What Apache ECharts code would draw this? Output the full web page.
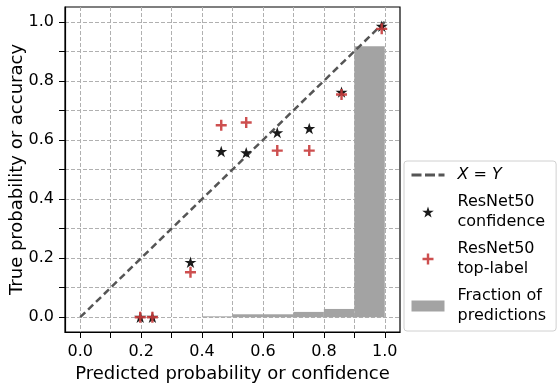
<!DOCTYPE html>
<html><head><meta charset="utf-8">
<script src="https://cdn.jsdelivr.net/npm/echarts@6/dist/echarts.min.js"></script>
<style>html,body{margin:0;padding:0;background:#fff}#c{width:560px;height:390px}</style>
</head><body><div id="c"></div>
<script>
// ---- data ----
const gridTicks = [0, 0.1, 0.2, 0.3, 0.4, 0.5, 0.6, 0.7, 0.8, 0.9, 1.0];
const tickLabels = [0, 0.2, 0.4, 0.6, 0.8, 1.0];
const diagX = [0, 1];
const diagY = [0, 1];
const confX = [0.197, 0.237, 0.362, 0.463, 0.545, 0.647, 0.752, 0.858, 0.990];
const confY = [0.0, 0.0, 0.186, 0.561, 0.557, 0.625, 0.639, 0.762, 0.985];
const topX = [0.197, 0.237, 0.362, 0.463, 0.545, 0.647, 0.752, 0.858, 0.990];
const topY = [0.0, 0.0, 0.152, 0.650, 0.659, 0.564, 0.564, 0.754, 0.976];
const binStart = [0.0, 0.1, 0.2, 0.3, 0.4, 0.5, 0.6, 0.7, 0.8, 0.9];
const binEnd = [0.1, 0.2, 0.3, 0.4, 0.5, 0.6, 0.7, 0.8, 0.9, 1.0];
const binFrac = [0, 0, 0, 0, 0.003, 0.010, 0.010, 0.018, 0.028, 0.917];
const legendNames = {
  'xy': '{i|X} = {i|Y}',
  'conf': 'ResNet50\nconfidence',
  'top': 'ResNet50\ntop-label',
  'frac': 'Fraction of\npredictions'
};

const FONT = 'DejaVu Sans';
const STAR = 'path://M50,0L61.2,34.5L97.6,34.5L68.2,55.9L79.4,90.5L50,69.1L20.6,90.5L31.8,55.9L2.4,34.5L38.8,34.5Z';
const PLUS = 'path://M3.9,0H6.1V3.9H10V6.1H6.1V10H3.9V6.1H0V3.9H3.9Z';

const chart = echarts.init(document.getElementById('c'), null, {renderer: 'canvas'});

function axisCommon(name, gap, margin, moveOverlap) {
  return {
    type: 'value', min: -0.05, max: 1.05,
    name: name, nameLocation: 'middle', nameGap: gap, nameMoveOverlap: moveOverlap,
    nameTextStyle: {fontFamily: FONT, fontSize: 18, color: '#000'},
    axisLine: {show: true, onZero: false, lineStyle: {color: '#000', width: 1.2}},
    axisTick: {show: true, length: 6, customValues: gridTicks, lineStyle: {color: '#000', width: 1}},
    axisLabel: {customValues: tickLabels, formatter: v => Number(v).toFixed(1),
      fontFamily: FONT, fontSize: 16, color: '#000', margin: margin},
    splitLine: {show: true, lineStyle: {color: '#b0b0b0', type: [4, 2], width: 1}}
  };
}

const option = {
  animation: false,
  backgroundColor: '#fff',
  grid: {left: 65, right: 160, top: 7, bottom: 58, containLabel: false, outerBoundsMode: 'none',
    show: true, borderColor: '#000', borderWidth: 1.2, backgroundColor: 'transparent'},
  xAxis: axisCommon('Predicted probability or confidence', 31, 12, true),
  yAxis: axisCommon('True probability or accuracy', 39, 11, false),
  legend: {
    orient: 'vertical', left: 404, top: 161, width: 150,
    padding: [4, 10, 5, 6], itemGap: 7, itemWidth: 33, itemHeight: 11,
    borderColor: '#d0d0d0', borderWidth: 1, borderRadius: 3, backgroundColor: '#fff',
    textStyle: {fontFamily: FONT, fontSize: 16, color: '#000', lineHeight: 20, padding: [0, 0, 0, 8],
      rich: {i: {fontFamily: FONT, fontSize: 16, fontStyle: 'italic', color: '#000'}}},
    formatter: n => legendNames[n],
    data: [
      {name: 'xy', itemStyle: {opacity: 0}, lineStyle: {type: [10, 3.5], width: 3, color: '#555555'}},
      {name: 'conf', icon: STAR},
      {name: 'top', icon: PLUS},
      {name: 'frac', icon: 'rect'}
    ]
  },
  series: [
    {
      name: 'frac', type: 'custom', z: 1,
      itemStyle: {color: '#a3a3a3'},
      data: binStart.map((s, i) => [s, binEnd[i], binFrac[i]]),
      renderItem: function (params, api) {
        const p0 = api.coord([api.value(0), 0]);
        const p1 = api.coord([api.value(1), api.value(2)]);
        return {type: 'rect', shape: {x: p0[0], y: p1[1], width: p1[0] - p0[0], height: p0[1] - p1[1]},
          style: {fill: '#a3a3a3'}};
      }
    },
    {
      name: 'xy', type: 'line', z: 2, showSymbol: false, symbol: 'none',
      data: diagX.map((x, i) => [x, diagY[i]]),
      lineStyle: {color: '#555555', width: 2.5, type: [7, 4]},
      itemStyle: {color: '#555555'}
    },
    {
      name: 'conf', type: 'scatter', z: 3, symbol: STAR, symbolSize: 12, symbolKeepAspect: true,
      data: confX.map((x, i) => [x, confY[i]]),
      itemStyle: {color: '#1a1a1a', opacity: 1}
    },
    {
      name: 'top', type: 'scatter', z: 4, symbol: PLUS, symbolSize: 11, symbolKeepAspect: true,
      data: topX.map((x, i) => [x, topY[i]]),
      itemStyle: {color: 'rgba(200,60,60,0.9)', opacity: 1}
    }
  ]
};
chart.setOption(option);
</script></body></html>
